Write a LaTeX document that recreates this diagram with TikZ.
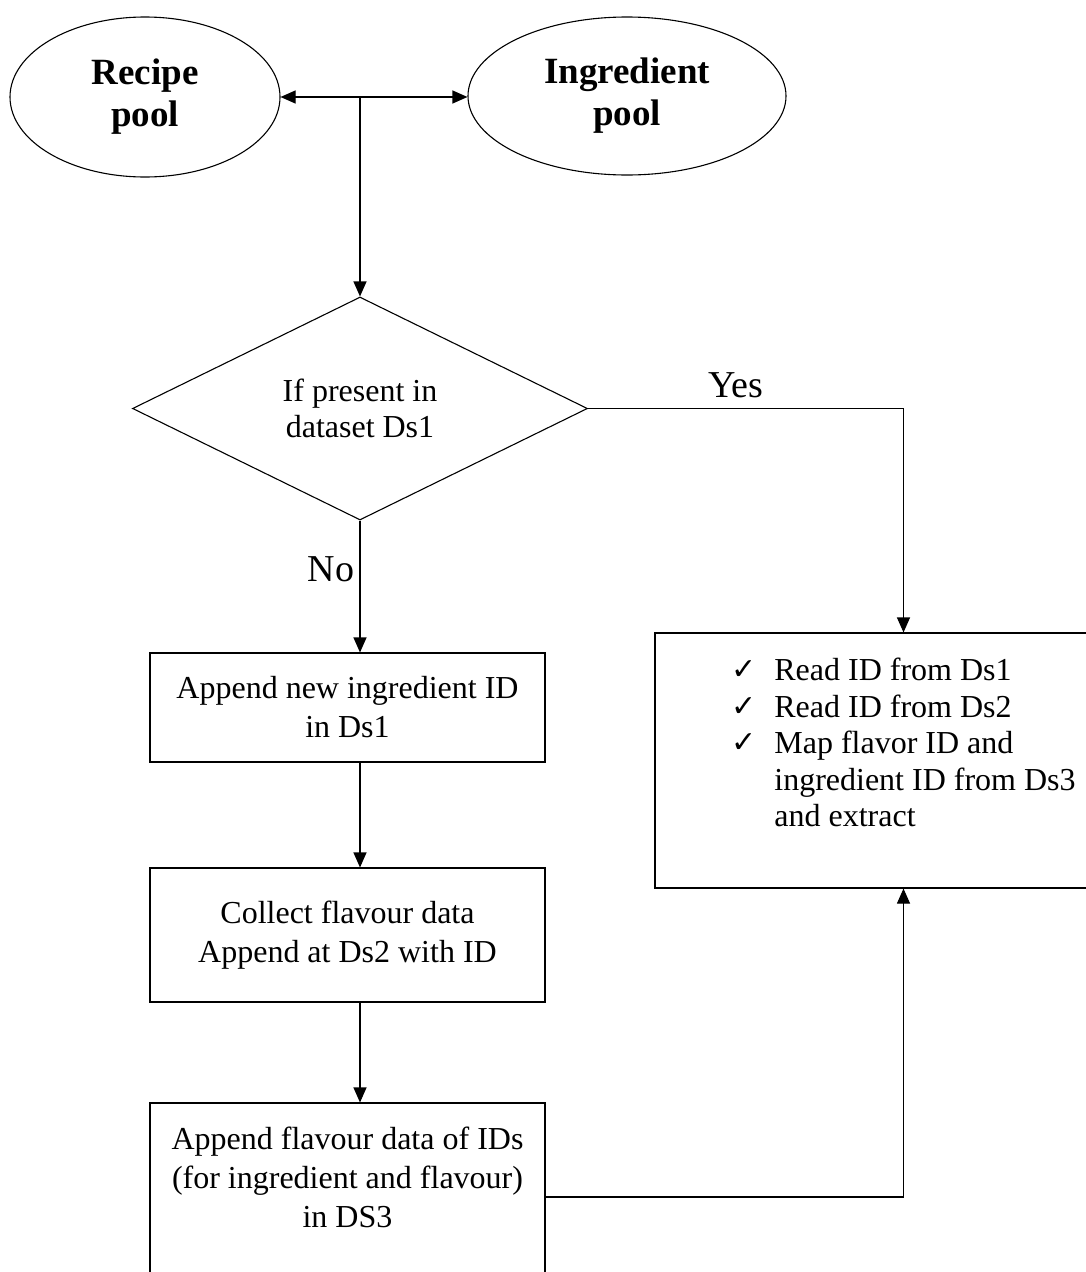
\documentclass[tikz,border=0pt]{standalone}
\usepackage{fontspec}
\setmainfont{Liberation Serif}
\newfontfamily\tickfont{DejaVu Sans}
\usepackage{tikz}
\usetikzlibrary{arrows.meta, positioning, shapes.geometric}
\newcommand{\tick}{\makebox[43pt][l]{\raisebox{1pt}{\tickfont\fontsize{30}{30}\selectfont ✓}}}

\begin{document}
\begin{tikzpicture}[x=1pt, y=-1pt,
  pool/.style={draw, ellipse, align=center, inner sep=0pt, line width=1.1pt,
               font=\fontsize{37}{42}\selectfont\bfseries},
  box/.style={draw, rectangle, align=center, inner sep=0pt, line width=1.1pt,
              minimum width=395, font=\fontsize{32}{39}\selectfont},
  cond/.style={draw, diamond, align=center, inner sep=0pt, line width=1.1pt,
               minimum width=455, minimum height=223, font=\fontsize{32}{36}\selectfont},
  lbl/.style={inner sep=0pt, font=\fontsize{38}{40}\selectfont},
  arr/.style={-{Triangle[length=15pt, width=13pt]}, line width=1.1pt}]
  \useasboundingbox (0,0) rectangle (1086,1272);
  \clip (0,0) rectangle (1086,1272);
  \node[pool, minimum width=270, minimum height=160] (recipe) at (145,97) {Recipe\\pool};
  \node[pool, minimum width=318, minimum height=158] (ingred) at (627,96) {Ingredient\\pool};
  \coordinate (split) at (360,97);
  \node[cond] (check) at (360,408.5) {If present in\\dataset Ds1};
  \node[box, minimum height=109] (append) at (347.5,707.5) {Append new ingredient ID\\in Ds1};
  \node[box, minimum height=134] (collect) at (347.5,935) {Collect flavour data\\Append at Ds2 with ID};
  \node[box, minimum height=188] (store) at (347.5,1197) {Append flavour data of IDs\\(for ingredient and flavour)\\in DS3\\\mbox{}};
  \node[draw, rectangle, align=left, inner sep=0pt, line width=1.1pt, minimum width=497, minimum height=255,
        font=\fontsize{32}{36.5}\selectfont] (reads) at (903.5,760.5)
        {\tick Read ID from Ds1\\\tick Read ID from Ds2\\\tick Map flavor ID and\\
         \hspace*{43pt}ingredient ID from Ds3\\\hspace*{43pt}and extract\\\mbox{}};
  \node[lbl, anchor=base] (yes) at (736,397) {Yes};
  \node[lbl, anchor=base] (no) at (331,581) {No};
  \draw[arr] (split) -- (recipe.east);
  \draw[arr] (split) -- (ingred.west |- split);
  \draw[arr] (split) -- (check.north);
  \draw[arr] (check.south) -- (check.south |- append.north);
  \draw[arr] (append.south -| check.south) -- (collect.north -| check.south);
  \draw[arr] (collect.south -| check.south) -- (store.north -| check.south);
  \draw[arr] (check.east) -| (reads.north);
  \draw[arr] (store.east) -| (reads.south);
\end{tikzpicture}
\end{document}
